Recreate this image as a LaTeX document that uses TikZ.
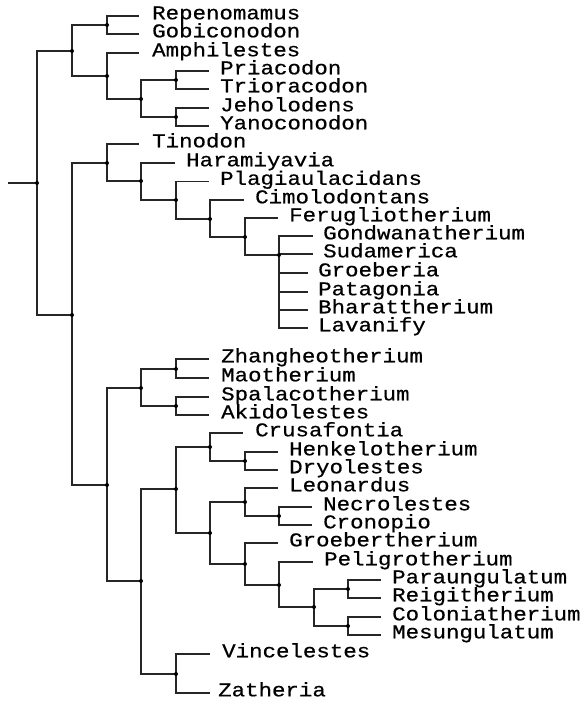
\documentclass[tikz,border=0pt]{standalone}
\usepackage{fontspec}
\newfontfamily\taxfont[FakeStretch=1.15,FakeBold=0.6]{Liberation Mono}
\usepackage{tikz}
\tikzstyle{taxon} = [anchor=west, inner sep=0pt, text height=0.66em, text depth=0pt, font=\taxfont\fontsize{19.5}{19.5}\selectfont]
\tikzstyle{branch} = [line width=1.3pt, black!85]
\tikzstyle{dot} = [fill=black]

\begin{document}
\begin{tikzpicture}[x=1pt, y=-1pt]
		\useasboundingbox (0,0) rectangle (586,708);
		% internal nodes
		\coordinate (stub)  at (8,183);
		\coordinate (root)  at (37,183);
		\coordinate (c1)    at (72,51);
		\coordinate (c2)    at (107,25);
		\coordinate (c3)    at (107,76);
		\coordinate (c4)    at (141,99);
		\coordinate (c5)    at (176,80);
		\coordinate (c6)    at (176,117);
		\coordinate (d1)    at (72,315);
		\coordinate (d2)    at (107,163);
		\coordinate (d3)    at (141,181);
		\coordinate (d4)    at (176,200);
		\coordinate (d5)    at (210,219);
		\coordinate (d6)    at (245,237);
		\coordinate (d7)    at (279,255);
		\coordinate (e1)    at (107,485);
		\coordinate (e2)    at (141,388);
		\coordinate (e3)    at (176,369);
		\coordinate (e4)    at (176,406);
		\coordinate (e5)    at (141,581);
		\coordinate (e6)    at (176,489);
		\coordinate (e7)    at (210,447);
		\coordinate (e8)    at (245,461);
		\coordinate (e9)    at (210,533);
		\coordinate (e10)   at (245,502);
		\coordinate (e11)   at (279,516);
		\coordinate (e12)   at (245,564);
		\coordinate (e13)   at (279,585);
		\coordinate (e14)   at (314,607);
		\coordinate (e15)   at (348,589);
		\coordinate (e16)   at (348,626);
		\coordinate (e17)   at (176,674);

		% taxa
		\node [taxon] at (152,16)	(repeno)	{Repenomamus};
		\node [taxon] at (152,34)	(gobi)		{Gobiconodon};
		\node [taxon] at (152,53)	(amphi)		{Amphilestes};
		\node [taxon] at (220,71)	(pria)		{Priacodon};
		\node [taxon] at (220,89)	(trio)		{Trioracodon};
		\node [taxon] at (220,108)	(jeho)		{Jeholodens};
		\node [taxon] at (220,126)	(yano)		{Yanoconodon};
		\node [taxon] at (152,144)	(tino)		{Tinodon};
		\node [taxon] at (186,163)	(hara)		{Haramiyavia};
		\node [taxon] at (220,181.5)	(plagi)		{Plagiaulacidans};
		\node [taxon] at (255,200)	(cimo)		{Cimolodontans};
		\node [taxon] at (289,218)	(ferug)		{Ferugliotherium};
		\node [taxon] at (323,236)	(gondw)		{Gondwanatherium};
		\node [taxon] at (323,254)	(suda)		{Sudamerica};
		\node [taxon] at (318,273)	(groeb)		{Groeberia};
		\node [taxon] at (318,292)	(pata)		{Patagonia};
		\node [taxon] at (318,310)	(bhar)		{Bharattherium};
		\node [taxon] at (318,328)	(lava)		{Lavanify};
		\node [taxon] at (221,359)	(zhang)		{Zhangheotherium};
		\node [taxon] at (221,378)	(mao)		{Maotherium};
		\node [taxon] at (221,397)	(spala)		{Spalacotherium};
		\node [taxon] at (221,415)	(akido)		{Akidolestes};
		\node [taxon] at (255,433)	(crusa)		{Crusafontia};
		\node [taxon] at (289,452)	(henk)		{Henkelotherium};
		\node [taxon] at (289,470)	(dryo)		{Dryolestes};
		\node [taxon] at (289,488)	(leon)		{Leonardus};
		\node [taxon] at (323,507)	(necro)		{Necrolestes};
		\node [taxon] at (323,525)	(crono)		{Cronopio};
		\node [taxon] at (289,543)	(groebt)	{Groebertherium};
		\node [taxon] at (324,562)	(peli)		{Peligrotherium};
		\node [taxon] at (392,580)	(parau)		{Paraungulatum};
		\node [taxon] at (392,598)	(reigi)		{Reigitherium};
		\node [taxon] at (392,617)	(colon)		{Coloniatherium};
		\node [taxon] at (392,635)	(mesun)		{Mesungulatum};
		\node [taxon] at (222,654)	(vince)		{Vincelestes};
		\node [taxon] at (218,693)	(zathe)		{Zatheria};

		% branches
		\draw [branch] (stub) -- (root);
		\draw [branch] (root) |- (c1);
		\draw [branch] (root) |- (d1);
		\draw [branch] (c1) |- (c2);
		\draw [branch] (c1) |- (c3);
		\draw [branch] (c2) |- ([xshift=-13pt]repeno.west);
		\draw [branch] (c2) |- ([xshift=-13pt]gobi.west);
		\draw [branch] (c3) |- ([xshift=-13pt]amphi.west);
		\draw [branch] (c3) |- (c4);
		\draw [branch] (c4) |- (c5);
		\draw [branch] (c4) |- (c6);
		\draw [branch] (c5) |- ([xshift=-11pt]pria.west);
		\draw [branch] (c5) |- ([xshift=-11pt]trio.west);
		\draw [branch] (c6) |- ([xshift=-11pt]jeho.west);
		\draw [branch] (c6) |- ([xshift=-11pt]yano.west);
		\draw [branch] (d1) |- (d2);
		\draw [branch] (d1) |- (e1);
		\draw [branch] (d2) |- ([xshift=-13pt]tino.west);
		\draw [branch] (d2) |- (d3);
		\draw [branch] (d3) |- ([xshift=-11pt]hara.west);
		\draw [branch] (d3) |- (d4);
		\draw [branch] (d4) |- ([xshift=-11pt]plagi.west);
		\draw [branch] (d4) |- (d5);
		\draw [branch] (d5) |- ([xshift=-11pt]cimo.west);
		\draw [branch] (d5) |- (d6);
		\draw [branch] (d6) |- ([xshift=-11pt]ferug.west);
		\draw [branch] (d6) |- (d7);
		\draw [branch] (d7) |- ([xshift=-10pt]gondw.west);
		\draw [branch] (d7) |- ([xshift=-10pt]suda.west);
		\draw [branch] (d7) |- ([xshift=-10pt]groeb.west);
		\draw [branch] (d7) |- ([xshift=-10pt]pata.west);
		\draw [branch] (d7) |- ([xshift=-10pt]bhar.west);
		\draw [branch] (d7) |- ([xshift=-10pt]lava.west);
		\draw [branch] (e1) |- (e2);
		\draw [branch] (e1) |- (e5);
		\draw [branch] (e2) |- (e3);
		\draw [branch] (e2) |- (e4);
		\draw [branch] (e3) |- ([xshift=-12pt]zhang.west);
		\draw [branch] (e3) |- ([xshift=-12pt]mao.west);
		\draw [branch] (e4) |- ([xshift=-12pt]spala.west);
		\draw [branch] (e4) |- ([xshift=-12pt]akido.west);
		\draw [branch] (e5) |- (e6);
		\draw [branch] (e5) |- (e17);
		\draw [branch] (e6) |- (e7);
		\draw [branch] (e6) |- (e9);
		\draw [branch] (e7) |- ([xshift=-12pt]crusa.west);
		\draw [branch] (e7) |- (e8);
		\draw [branch] (e8) |- ([xshift=-11pt]henk.west);
		\draw [branch] (e8) |- ([xshift=-11pt]dryo.west);
		\draw [branch] (e9) |- (e10);
		\draw [branch] (e9) |- (e12);
		\draw [branch] (e10) |- ([xshift=-11pt]leon.west);
		\draw [branch] (e10) |- (e11);
		\draw [branch] (e11) |- ([xshift=-11pt]necro.west);
		\draw [branch] (e11) |- ([xshift=-11pt]crono.west);
		\draw [branch] (e12) |- ([xshift=-11pt]groebt.west);
		\draw [branch] (e12) |- (e13);
		\draw [branch] (e13) |- ([xshift=-11pt]peli.west);
		\draw [branch] (e13) |- (e14);
		\draw [branch] (e14) |- (e15);
		\draw [branch] (e14) |- (e16);
		\draw [branch] (e15) |- ([xshift=-11pt]parau.west);
		\draw [branch] (e15) |- ([xshift=-11pt]reigi.west);
		\draw [branch] (e16) |- ([xshift=-11pt]colon.west);
		\draw [branch] (e16) |- ([xshift=-11pt]mesun.west);
		\draw [branch] (e17) |- ([xshift=-12pt]vince.west);
		\draw [branch] (e17) |- ([xshift=-8pt]zathe.west);

		% node dots
		\foreach \n in {root,c1,c2,c3,c4,c5,c6,d1,d2,d3,d4,d5,d6,d7,e1,e2,e3,e4,e5,e6,e7,e8,e9,e10,e11,e12,e13,e14,e15,e16,e17}
			\fill [dot] (\n) circle (2pt);
	\end{tikzpicture}
\end{document}
